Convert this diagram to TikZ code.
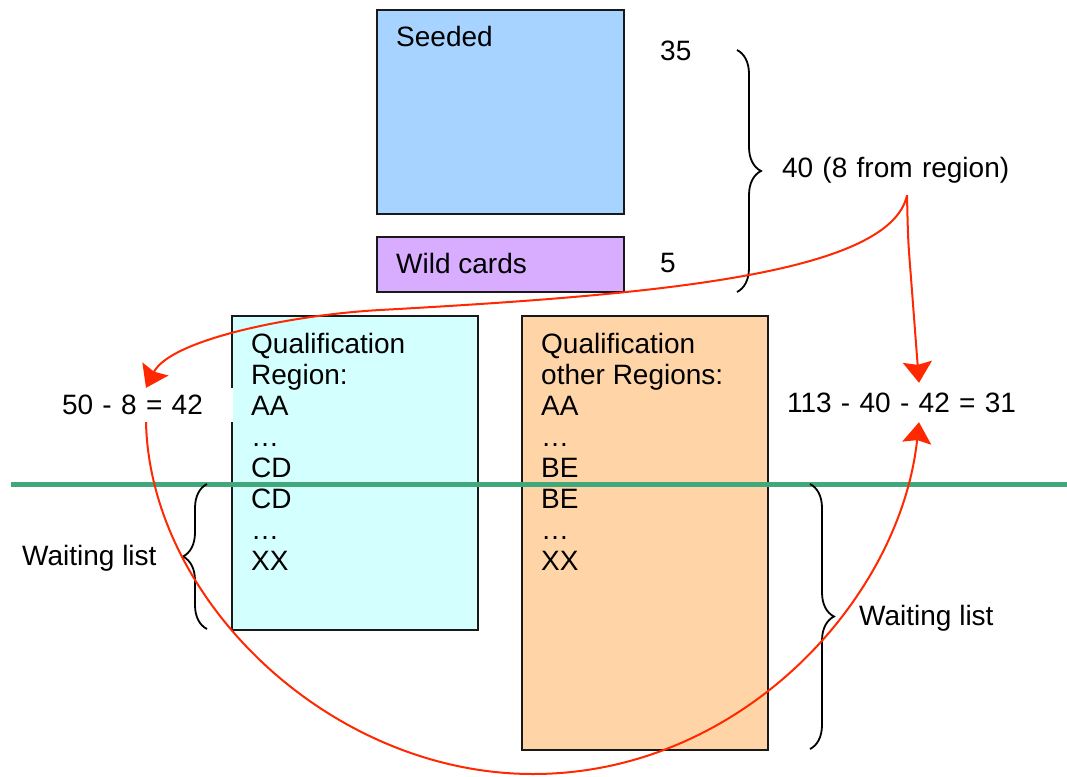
\documentclass[tikz,border=0pt]{standalone}
\usepackage{fontspec}
\setmainfont{Liberation Sans}
\usetikzlibrary{decorations.pathreplacing,arrows.meta}
\definecolor{seedblue}{RGB}{166,211,255}
\definecolor{wildpurple}{RGB}{216,173,255}
\definecolor{qualcyan}{RGB}{212,255,255}
\definecolor{otherorange}{RGB}{255,213,168}
\definecolor{linegreen}{RGB}{64,168,122}
\definecolor{arrowred}{RGB}{255,40,0}
\begin{document}
\begin{tikzpicture}[x=1pt,y=1pt,
  box/.style={draw=black!90, line width=2pt, anchor=north west, inner sep=0pt},
  txt/.style={font=\fontsize{28}{31}\selectfont, inner sep=0pt, anchor=base west},
  calc/.style={font=\fontsize{28}{31}\selectfont, inner xsep=3pt, inner ysep=0pt, align=left},
  brc/.style={draw=black, line width=1.8pt, decorate, decoration={brace, amplitude=24pt}},
  redarrow/.style={draw=arrowred, line width=2pt, -{Stealth[length=21pt,width=29pt,inset=3pt]}}
]
\useasboundingbox (0,0) rectangle (1067,-776);

% boxes
\node[box, fill=seedblue, minimum width=247pt, minimum height=204pt] (seeded) at (376,-9) {};
\node[box, fill=wildpurple, minimum width=247pt, minimum height=55pt] (wild) at (376,-236) {};
\node[box, fill=qualcyan, minimum width=246pt, minimum height=314pt] (qual) at (231,-315) {};
\node[box, fill=otherorange, minimum width=246pt, minimum height=434pt] (other) at (521,-315) {};

% box texts
\node[txt] (seededtxt) at (396,-47) {Seeded};
\node[txt] (wildtxt) at (396,-273) {Wild cards};
\node[txt] (qualtxt) at (251,-353) {\parbox[t]{220pt}{Qualification\\Region:\\AA\\…\\CD\\CD\\…\\XX}};
\node[txt] (othertxt) at (541,-353) {\parbox[t]{220pt}{Qualification\\other Regions:\\AA\\…\\BE\\BE\\…\\XX}};

% side labels
\node[txt] (n35) at (660,-60) {35};
\node[txt] (n5) at (660,-272) {5};
\node[txt] (wl1) at (22,-565) {Waiting list};
\node[txt] (wl2) at (859,-625) {Waiting list};

\node[calc, text width=250pt, minimum height=50pt] (c40) at (907,-170) {40 (8 from region)};
\node[calc, fill=white, text width=168pt, minimum height=34pt] (c50) at (146,-405) {50 - 8 = 42};
\node[calc, text width=264pt, minimum height=39pt] (c113) at (919,-402.5) {113 - 40 - 42 = 31};

% green separator
\draw[linegreen, line width=5pt] (11,-484) -- (1067,-484);

% braces
\draw[brc] (737,-50) -- (737,-292);
\draw[brc] (207,-629) -- (207,-484);
\draw[brc] (810,-484) -- (810,-749);

% red arrows
\coordinate (k1) at (380,-310);
\coordinate (k2) at (911,-278);
\coordinate (k3) at (533,-774);
\draw[redarrow] (c40.south) .. controls (890,-275) and (650,-295) .. (k1)
   .. controls (290,-315) and (170,-340) .. (c50.north);
\draw[redarrow] (c40.south) .. controls (908,-240) .. (k2) -- (c113.north);
\draw[redarrow] (c50.south) .. controls (150,-600) and (330,-774) .. (k3)
   .. controls (740,-774) and (900,-600) .. (c113.south);
\end{tikzpicture}
\end{document}
